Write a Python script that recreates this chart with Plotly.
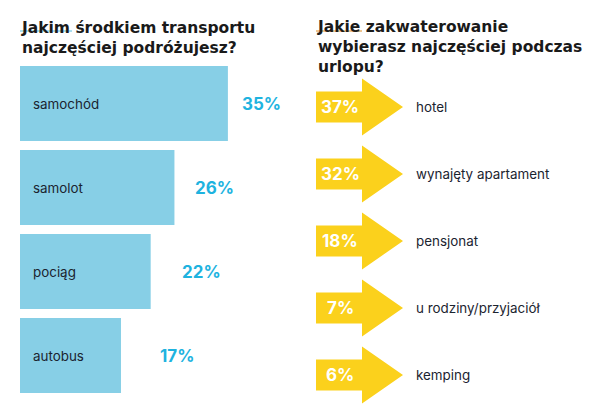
import plotly.graph_objects as go

# ---- data ----
transport_labels = ["samochód", "samolot", "pociąg", "autobus"]
transport_values = [35, 26, 22, 17]

stay_labels = ["hotel", "wynajęty apartament", "pensjonat", "u rodziny/przyjaciół", "kemping"]
stay_values = [37, 32, 18, 7, 6]

title_left = ["Jakim środkiem transportu", "najczęściej podróżujesz?"]
title_right = ["Jakie zakwaterowanie", "wybierasz najczęściej podczas", "urlopu?"]

# ---- styles ----
FONT = "Inter"
TFONT = "DejaVu Sans"
DARK = "#1b2430"
BAR_BLUE = "#87cfe6"
PCT_BLUE = "#1eb3df"
YELLOW = "#fbd11c"
W, H = 600, 420
OFF = 8  # page body margin

def px(x):
    return (x - OFF) / W

def py(y):
    return 1 - (y - OFF) / H

# label nudges (pixels) for the percentage labels next to bars
pct_nudge = [12, 19, 29, 37]

fig = go.Figure()

# left: horizontal bars
fig.add_trace(go.Bar(
    x=transport_values,
    y=list(range(len(transport_values))),
    orientation="h",
    width=0.893,
    marker=dict(color=BAR_BLUE, line=dict(width=0)),
    hoverinfo="skip",
    xaxis="x", yaxis="y",
))

# right: arrows (icon template, centered on each category row)
ax, ay = [], []
body_l, head_b, tip = 316, 362, 403
bh, hh = 0.231, 0.425
for i, _ in enumerate(stay_values):
    xs = [body_l, head_b, head_b, tip, head_b, head_b, body_l, body_l]
    ys = [i - bh, i - bh, i - hh, i, i + hh, i + bh, i + bh, i - bh]
    ax += xs + [None]
    ay += ys + [None]
fig.add_trace(go.Scatter(
    x=ax, y=ay, mode="lines", fill="toself", fillcolor=YELLOW,
    line=dict(width=0, color=YELLOW), hoverinfo="skip",
    xaxis="x2", yaxis="y2",
))

ann = []
for i, (lab, v) in enumerate(zip(transport_labels, transport_values)):
    ann.append(dict(x=0, y=i, xref="x", yref="y", text=lab, showarrow=False,
                    xanchor="left", xshift=11, font=dict(family=FONT, size=13.4, color=DARK)))
    ann.append(dict(x=v, y=i, xref="x", yref="y", text=f"<b>{v}%</b>", showarrow=False,
                    xanchor="left", xshift=pct_nudge[i],
                    font=dict(family=FONT, size=17, color=PCT_BLUE)))

for i, (lab, v) in enumerate(zip(stay_labels, stay_values)):
    ann.append(dict(x=340, y=i, xref="x2", yref="y2", text=f"<b>{v}%</b>", showarrow=False,
                    xanchor="center", font=dict(family=FONT, size=17, color="white")))
    ann.append(dict(x=414, y=i, xref="x2", yref="y2", text=lab, showarrow=False,
                    xanchor="left", font=dict(family=FONT, size=13.4, color=DARK)))

# titles (one multi-line text each)
ann.append(dict(x=px(19), y=py(38.2), xref="paper", yref="paper",
                text="<b>" + "<br>".join(title_left) + "</b>",
                showarrow=False, xanchor="left", yanchor="middle", align="left",
                font=dict(family=TFONT, size=15.5, color="#1a1a1a")))
ann.append(dict(x=px(315), y=py(46.5), xref="paper", yref="paper",
                text="<b>" + "<br>".join(title_right) + "</b>",
                showarrow=False, xanchor="left", yanchor="middle", align="left",
                font=dict(family=TFONT, size=15.5, color="#1a1a1a")))

shapes = [
    dict(type="line", xref="paper", yref="paper", x0=px(20), x1=px(72), y0=py(31), y1=py(31),
         line=dict(color="#8fd3ea", width=1.5)),
    dict(type="line", xref="paper", yref="paper", x0=px(316), x1=px(362), y0=py(31), y1=py(31),
         line=dict(color="#e8b06a", width=1.5)),
]

fig.update_layout(
    width=W, height=H,
    margin=dict(l=0, r=0, t=0, b=0),
    paper_bgcolor="white", plot_bgcolor="white",
    showlegend=False,
    annotations=ann, shapes=shapes,
    xaxis=dict(domain=[px(20), px(317)], range=[0, 50], visible=False, fixedrange=True),
    yaxis=dict(domain=[py(397.5), py(61.5)], range=[3.5, -0.5], visible=False, fixedrange=True),
    xaxis2=dict(domain=[px(300), px(600)], range=[300, 600], visible=False, fixedrange=True,
                anchor="y2"),
    yaxis2=dict(domain=[py(408.5), py(73.5)], range=[4.5, -0.5], visible=False, fixedrange=True,
                anchor="x2"),
)

fig.write_html("out.html")
